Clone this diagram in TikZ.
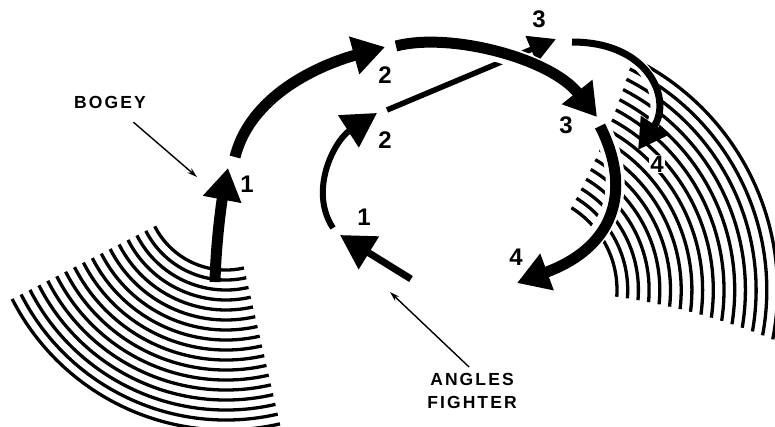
\documentclass[tikz,border=0pt]{standalone}
\usepackage{fontspec}
\setmainfont{Liberation Sans}
\usetikzlibrary{arrows.meta}

\begin{document}
\begin{tikzpicture}[x=1pt,y=-1pt,cone/.style={line width=3.3pt},bog/.style={line width=11pt,-{Triangle[length=32pt,width=37pt]}},ftr/.style={line width=7pt,-{Triangle[length=34pt,width=37pt]}},halo/.style={draw=white,line width=19pt,shorten >=14pt},num/.style={font=\fontsize{24}{24}\selectfont\bfseries,inner sep=1pt},word/.style={font=\fontsize{17.5}{23}\selectfont\bfseries\addfontfeatures{LetterSpace=12},align=center},lead/.style={line width=1.4pt,-{Stealth[length=10pt,width=6pt]}}]
\useasboundingbox (0,0) rectangle (775,426);
\coordinate (lc) at (226,190);
\coordinate (rc) at (520,290);
\foreach \i in {0,...,16}{\pgfmathsetmacro\r{80+10*\i}
\draw[cone] ([shift={(153:\r)}]lc) arc[start angle=153,end angle=77,radius=\r];}
\foreach \i in {0,...,15}{\pgfmathsetmacro\r{97+10.7*\i}\pgfmathsetmacro\a{-58-0.4*\i}\pgfmathsetmacro\b{4+0.47*\i}
\draw[cone] ([shift={(\a:\r)}]rc) arc[start angle=\a,end angle=\b,radius=\r];}
\coordinate (b0) at (215,282); \coordinate (b1) at (228,168);
\coordinate (b2s) at (235,157); \coordinate (b2) at (385,47);
\coordinate (b3s) at (396,46); \coordinate (b3) at (597,117);
\coordinate (b4s) at (600,126); \coordinate (b4) at (517,283);
\coordinate (f0) at (411,279); \coordinate (f1) at (340,235);
\coordinate (f2s) at (333,228); \coordinate (f2) at (377,113);
\coordinate (f3s) at (387,110); \coordinate (f3) at (556,39);
\coordinate (f4s) at (572,42); \coordinate (f4) at (638,150);
\draw[ftr] (f0)--(f1);
\draw[ftr,line width=6pt] (f2s) .. controls (308,190) and (335,140) .. (f2);
\draw[line width=5.5pt,-{Triangle[length=27pt,width=28pt]}] (f3s)--(f3);
\draw[draw=white,line width=12pt,shorten >=14pt] (f4s) .. controls (650,42) and (672,100) .. (f4);
\draw[ftr,-{Triangle[length=30pt,width=32pt]}] (f4s) .. controls (650,42) and (672,100) .. (f4);
\draw[bog] (b0) .. controls (216,240) and (222,200) .. (b1);
\draw[bog] (b2s) .. controls (252,90) and (330,62) .. (b2);
\draw[halo] (b3s) .. controls (450,32) and (550,58) .. (b3);
\draw[bog] (b3s) .. controls (450,32) and (550,58) .. (b3);
\draw[halo] (b4s) .. controls (630,185) and (620,245) .. (b4);
\draw[bog] (b4s) .. controls (630,185) and (620,245) .. (b4);
\foreach \n/\x/\y/\t in {bn1/247/184/1,bn2/385/75/2,bn3/566/125/3,bn4/516/257/4,fn1/364/217/1,fn2/385/140/2,fn3/539/19/3}{\node[num] (\n) at (\x,\y) {\t};}
\node[num,fill=white] (fn4) at (657,164) {4};
\node[word] (bogey) at (110,102) {BOGEY};
\node[word] (fighter) at (472,391) {ANGLES\\FIGHTER};
\coordinate (bt) at (197,177);
\coordinate (ft) at (390,292);
\draw[lead,shorten <=16pt] (bogey)--(bt);
\draw[lead,shorten <=4pt] (fighter.north)--(ft);
\end{tikzpicture}
\end{document}
